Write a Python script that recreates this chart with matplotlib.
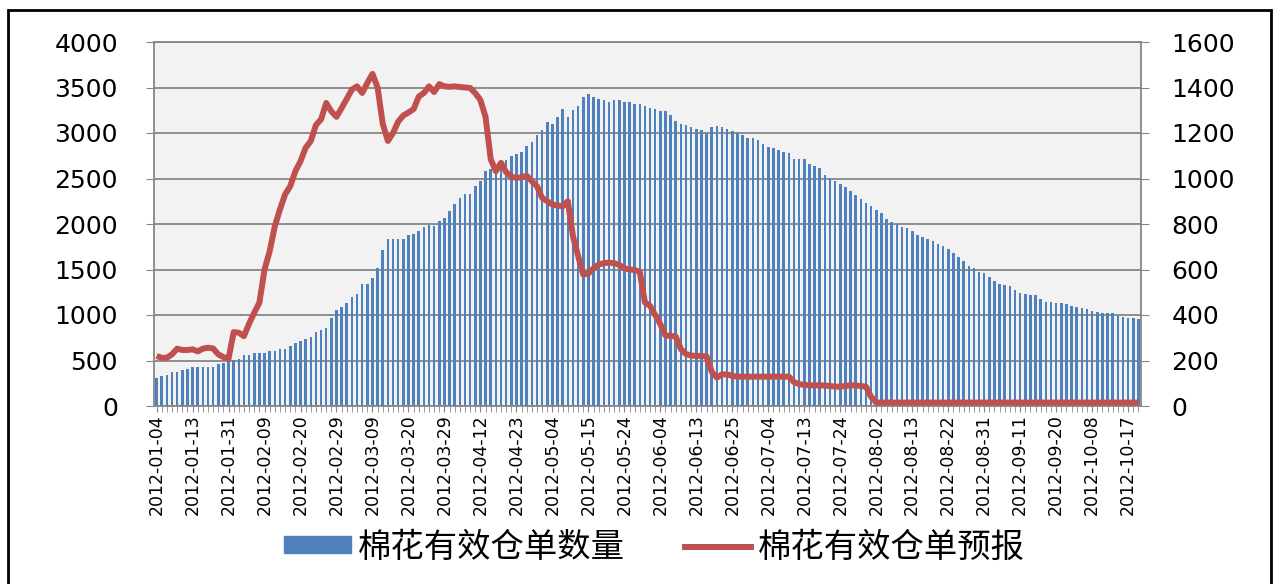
import numpy as np
import matplotlib
matplotlib.use("Agg")
import matplotlib.pyplot as plt
from matplotlib.patches import Patch, Rectangle
from matplotlib.lines import Line2D
from matplotlib.font_manager import FontProperties

# 棉花有效仓单数量 (左轴), one value per trading day 2012-01-04 .. 2012-10-19
warrants = [
    304, 329, 344, 377, 377, 395, 410, 428, 432, 432, 432, 432,
    465, 476, 494, 505, 512, 556, 556, 586, 586, 586, 600, 600,
    630, 630, 659, 688, 714, 739, 754, 812, 834, 853, 966, 1050,
    1091, 1135, 1193, 1233, 1343, 1343, 1402, 1515, 1716, 1837, 1837, 1837,
    1837, 1874, 1892, 1918, 1962, 1991, 1976, 2031, 2061, 2148, 2218, 2284,
    2331, 2331, 2416, 2471, 2584, 2599, 2630, 2665, 2708, 2752, 2765, 2795,
    2862, 2905, 2975, 3038, 3118, 3104, 3177, 3261, 3177, 3257, 3301, 3396,
    3429, 3396, 3375, 3360, 3345, 3360, 3360, 3345, 3345, 3316, 3316, 3301,
    3276, 3265, 3246, 3246, 3199, 3137, 3104, 3089, 3071, 3049, 3038, 3001,
    3063, 3078, 3063, 3049, 3019, 3001, 2976, 2950, 2950, 2924, 2877, 2851,
    2837, 2811, 2796, 2782, 2712, 2712, 2712, 2654, 2639, 2613, 2540, 2507,
    2471, 2441, 2405, 2361, 2317, 2277, 2233, 2203, 2159, 2123, 2050, 2020,
    2000, 1965, 1951, 1922, 1878, 1852, 1837, 1808, 1779, 1753, 1724, 1684,
    1640, 1596, 1541, 1512, 1471, 1457, 1413, 1369, 1343, 1329, 1314, 1274,
    1244, 1233, 1219, 1219, 1179, 1146, 1146, 1135, 1135, 1116, 1102, 1087,
    1072, 1061, 1047, 1032, 1021, 1021, 1021, 1003, 974, 966, 966, 952,
]

# 棉花有效仓单预报 (右轴)
forecast = [
    220, 212, 212, 227, 252, 246, 246, 249, 240, 252, 256, 253,
    227, 215, 208, 325, 322, 307, 362, 410, 454, 600, 680, 790,
    864, 930, 966, 1032, 1076, 1135, 1165, 1235, 1260, 1332, 1295, 1271,
    1310, 1350, 1391, 1405, 1376, 1420, 1460, 1400, 1240, 1165, 1200, 1250,
    1277, 1290, 1305, 1360, 1376, 1405, 1380, 1415, 1405, 1403, 1405, 1402,
    1400, 1398, 1375, 1345, 1270, 1085, 1032, 1069, 1028, 1008, 1003, 1005,
    1012, 988, 966, 915, 900, 886, 881, 878, 900, 747, 660, 578,
    582, 605, 622, 628, 630, 628, 620, 605, 600, 598, 590, 455,
    440, 400, 360, 310, 308, 305, 250, 228, 222, 220, 220, 218,
    150, 125, 139, 139, 132, 129, 129, 129, 129, 129, 129, 129,
    129, 129, 129, 129, 105, 96, 93, 91, 91, 91, 90, 88,
    85, 85, 88, 91, 90, 88, 85, 40, 15, 15, 15, 15,
    15, 15, 15, 15, 15, 15, 15, 15, 15, 15, 15, 15,
    15, 15, 15, 15, 15, 15, 15, 15, 15, 15, 15, 15,
    15, 15, 15, 15, 15, 15, 15, 15, 15, 15, 15, 15,
    15, 15, 15, 15, 15, 15, 15, 15, 15, 15, 15, 15,
]

# every 7th trading day gets a label
date_labels = [
    "2012-01-04", "2012-01-13", "2012-01-31", "2012-02-09", "2012-02-20",
    "2012-02-29", "2012-03-09", "2012-03-20", "2012-03-29", "2012-04-12",
    "2012-04-23", "2012-05-04", "2012-05-15", "2012-05-24", "2012-06-04",
    "2012-06-13", "2012-06-25", "2012-07-04", "2012-07-13", "2012-07-24",
    "2012-08-02", "2012-08-13", "2012-08-22", "2012-08-31", "2012-09-11",
    "2012-09-20", "2012-10-08", "2012-10-17",
]
series_names = ["棉花有效仓单数量", "棉花有效仓单预报"]

blue = "#4f81bd"
red = "#c0504d"
grey = "#868686"

plt.rcParams["font.family"] = ["DejaVu Sans", "Noto Sans CJK SC"]

fig = plt.figure(figsize=(12.76, 5.84), dpi=100)
ax = fig.add_axes([154 / 1276, 178 / 584, 987 / 1276, 364 / 584])
ax.set_facecolor("#f2f2f2")

x = np.arange(len(warrants))
ax.bar(x, warrants, width=0.5, color=blue, zorder=2)
ax.set_xlim(-0.5, len(x) - 0.5)
ax.set_ylim(0, 4000)
ax.set_yticks(range(0, 4001, 500))
ax.grid(axis="y", color=grey, lw=1.3, zorder=1)
ax.set_axisbelow(True)

ax.set_xticks(x[::7])
ax.set_xticklabels(date_labels, rotation=90, fontsize=12.5)
ax.set_xticks(x, minor=True)
ax.tick_params(axis="x", which="both", direction="out", length=4, color=grey, pad=2)
ax.tick_params(axis="y", direction="out", length=6, color=grey, labelsize=18, pad=20)

ax2 = ax.twinx()
ax2.plot(x, forecast, color=red, lw=4.3, solid_joinstyle="round", solid_capstyle="butt", zorder=3)
ax2.set_ylim(0, 1600)
ax2.set_yticks(range(0, 1601, 200))
ax2.tick_params(axis="y", direction="out", length=6, color=grey, labelsize=18, pad=16)

for a in (ax, ax2):
    for s in a.spines.values():
        s.set_color(grey)
        s.set_linewidth(1.3)
ax2.spines["left"].set_visible(False)
ax2.spines["bottom"].set_visible(False)
ax2.spines["top"].set_visible(False)
ax.spines["right"].set_visible(False)

handles = [Patch(color=blue), Line2D([], [], color=red, lw=4.3)]
fig.legend(handles, series_names, loc="center", bbox_to_anchor=(0.513, 0.063), ncol=2,
           frameon=False, prop=FontProperties(family="Noto Sans CJK SC", size=24),
           handlelength=2.0, handleheight=0.4, handletextpad=0.2, columnspacing=1.8)

# outer frame of the original screenshot
fig.patches.append(Rectangle((8 / 1276, -0.05), 1263 / 1276, (574 / 584) + 0.05,
                             transform=fig.transFigure, fill=False, ec="black", lw=2))

fig.savefig("out.png", dpi=100)
